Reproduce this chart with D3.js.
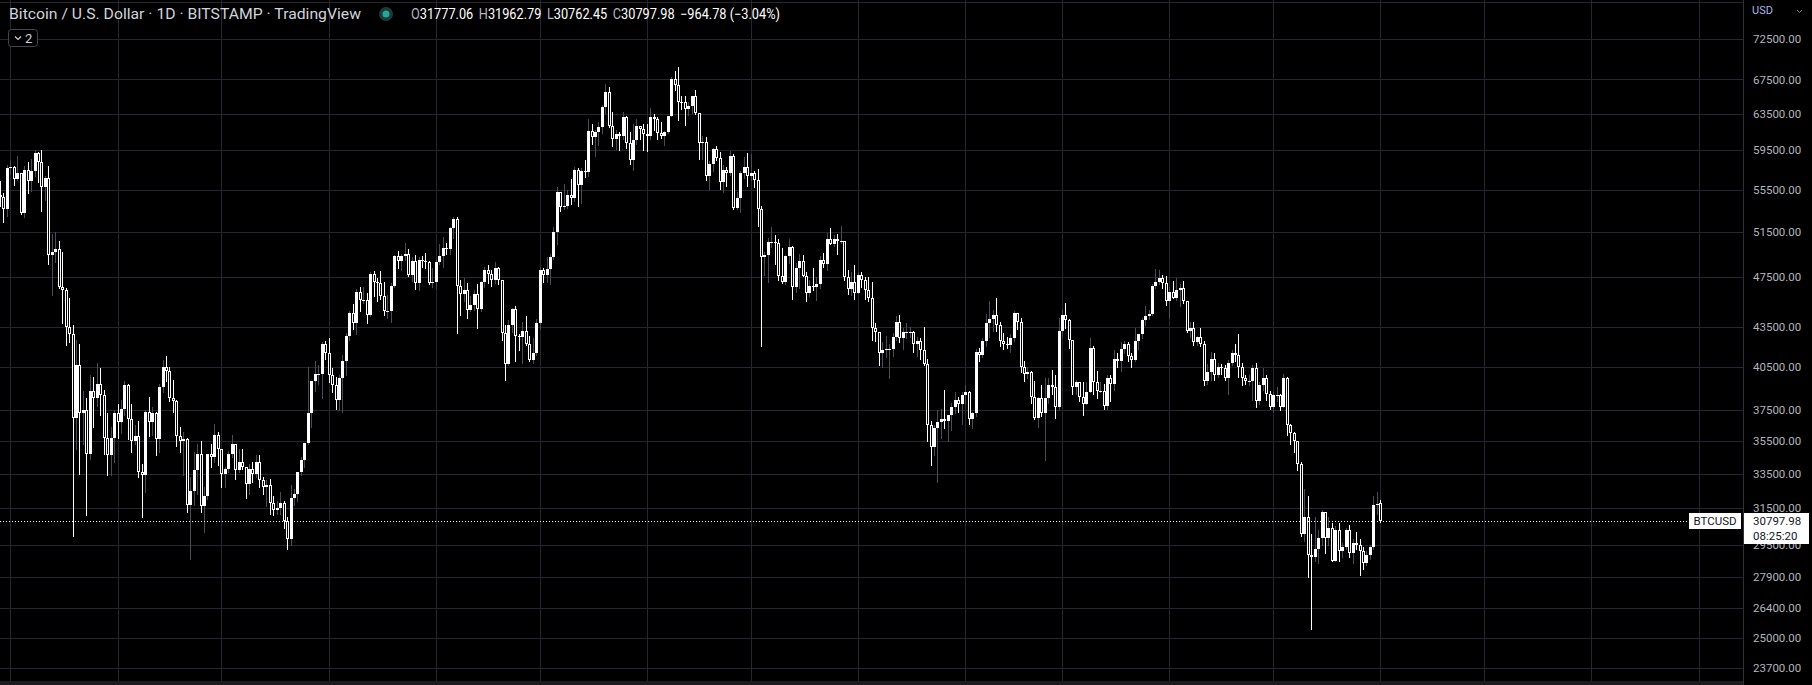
<!DOCTYPE html>
<html>
<head>
<meta charset="utf-8">
<script src="https://cdn.jsdelivr.net/npm/d3@7/dist/d3.min.js"></script>
<style>
  body { margin: 0; background: #000; overflow: hidden; }
  svg text { font-family: Roboto, "Liberation Sans", sans-serif; }
</style>
</head>
<body>
<svg id="chart" width="1812" height="685"></svg>
<script>
// BTCUSD daily candles, Bitstamp, values in thousands of USD
const firstDay = '2021-04-28';

const opens = [
  55.0, 54.8, 53.6,
  57.7, 57.8, 56.6, 57.2, 53.2, 57.5, 56.4, 57.4, 59.2, 58.3, 55.8, 56.7, 49.4, 49.7, 49.9, 46.7, 46.4, 43.5, 42.9, 37.0, 40.6, 37.3, 37.5, 34.7, 38.8, 38.3, 39.3, 38.5, 35.7, 34.6, 35.7,
  37.3, 36.7, 37.6, 39.2, 36.9, 35.5, 35.8, 33.6, 33.4, 37.4, 36.7, 37.3, 35.6, 39.1, 40.5, 40.2, 38.3, 38.1, 35.8, 35.5, 35.6, 31.7, 32.5, 33.7, 34.7, 31.6, 32.2, 34.7, 34.5, 35.9,
  35.0, 33.5, 33.8, 34.7, 35.3, 33.7, 34.2, 33.9, 32.9, 33.8, 33.5, 34.2, 33.1, 32.7, 32.8, 31.8, 31.4, 31.5, 31.8, 30.8, 29.8, 32.1, 32.3, 33.6, 34.3, 35.4, 37.3, 39.5, 40.0, 40.0, 42.2,
  41.5, 39.9, 39.2, 38.2, 39.7, 40.9, 42.8, 44.6, 43.8, 46.3, 45.6, 45.6, 44.4, 47.8, 47.1, 47.0, 45.9, 44.7, 44.7, 46.8, 49.3, 48.9, 49.3, 49.5, 47.7, 48.9, 47.0, 49.0, 48.9, 48.8, 47.0,
  47.1, 48.8, 49.3, 50.0, 49.9, 51.8, 52.7, 46.8, 46.1, 46.4, 44.8, 45.2, 46.1, 44.9, 47.1, 48.1, 47.8, 47.3, 48.3, 47.3, 43.0, 40.7, 43.6, 44.9, 42.8, 42.7, 43.2, 42.2, 41.0, 41.5,
  43.8, 48.1, 47.7, 48.2, 49.2, 51.5, 55.3, 53.8, 53.9, 55.0, 54.7, 57.5, 56.0, 57.4, 57.3, 61.6, 60.9, 61.5, 62.0, 64.3, 66.0, 62.2, 60.7, 61.3, 61.0, 63.2, 60.3, 58.5, 60.6, 62.2, 61.8,
  61.3, 61.0, 63.2, 62.9, 61.4, 61.0, 61.5, 63.3, 67.5, 66.9, 64.9, 64.8, 64.1, 64.4, 65.5, 63.6, 60.3, 60.4, 56.9, 58.1, 59.7, 58.7, 56.3, 57.5, 57.2, 58.9, 53.7, 54.7, 57.2, 57.8,
  56.9, 57.2, 56.5, 53.6, 49.2, 49.4, 50.6, 50.6, 50.5, 47.6, 47.1, 49.3, 50.1, 46.7, 48.3, 48.9, 47.6, 46.2, 46.8, 46.7, 46.9, 49.0, 48.6, 50.8, 50.4, 50.8, 50.7, 50.7, 47.5, 46.5, 47.1,
  46.2, 47.7, 47.3, 46.4, 45.8, 43.4, 43.1, 41.5, 41.7, 41.8, 41.8, 42.7, 43.9, 42.6, 43.1, 43.1, 43.1, 42.2, 42.4, 41.7, 40.7, 36.5, 35.1, 36.3, 36.7, 36.9, 36.8, 37.2, 37.7, 38.2, 37.9,
  38.5, 38.7, 36.9, 37.3, 41.6, 41.4, 42.4, 43.8, 44.1, 44.4, 43.6, 42.4, 42.2, 42.1, 42.6, 44.6, 43.9, 40.5, 40.0, 40.1, 38.4, 37.0, 38.3, 37.3, 38.3, 39.2, 39.1, 37.7,
  43.2, 44.4, 44.0, 42.5, 39.1, 39.4, 38.4, 37.9, 38.7, 41.9, 39.4, 38.8, 38.8, 37.8, 39.7, 39.3, 41.1, 40.9, 41.8, 42.2, 41.3, 41.0, 42.4, 42.9, 44.0, 44.3, 44.5, 46.8, 47.1, 47.4, 47.0,
  45.5, 46.3, 45.8, 46.4, 46.6, 45.5, 43.2, 43.4, 42.3, 42.7, 42.2, 39.5, 40.1, 41.1, 39.9, 40.5, 40.4, 39.7, 40.8, 41.5, 41.4, 40.5, 39.7, 39.5, 39.5, 40.4, 38.1, 39.2, 39.7, 38.6,
  37.7, 38.5, 38.5, 37.7, 39.7, 36.5, 36.0, 35.5, 34.1, 30.1, 31.0, 29.0, 28.9, 29.3, 29.9, 31.3, 29.9, 30.4, 28.7, 30.3, 29.2, 29.4, 30.3, 29.1, 29.6, 29.5, 29.2, 28.6, 29.0, 29.4, 31.7,
  31.77706
];

const highs = [
  56.4, 55.2, 58.0,
  58.5, 57.9, 58.9, 57.2, 57.9, 58.3, 58.6, 59.5, 59.3, 59.6, 56.9, 57.9, 51.3, 51.5, 50.7, 49.7, 46.6, 45.8, 43.6, 42.5, 42.2, 38.8, 38.3, 39.9, 39.8, 40.8, 40.4, 38.9, 37.3, 36.4, 37.5,
  37.9, 38.2, 39.5, 39.3, 37.9, 36.5, 36.8, 34.1, 37.5, 38.4, 37.7, 37.4, 39.3, 41.0, 41.3, 40.5, 39.6, 38.2, 36.4, 36.1, 35.7, 33.3, 34.8, 35.3, 35.5, 32.7, 34.7, 35.3, 36.6, 36.1,
  35.0, 33.9, 34.9, 35.9, 35.3, 35.0, 35.0, 33.9, 34.1, 34.2, 34.6, 34.6, 33.3, 33.1, 33.2, 32.2, 31.9, 32.4, 31.9, 31.0, 32.8, 32.6, 33.6, 34.5, 35.4, 40.5, 39.5, 40.9, 40.6, 42.3, 42.4,
  42.6, 40.4, 39.8, 39.9, 41.4, 43.0, 44.7, 45.3, 46.5, 46.7, 46.7, 46.2, 47.9, 48.0, 47.4, 48.0, 47.1, 46.0, 47.0, 49.4, 49.8, 49.5, 50.5, 49.9, 49.2, 49.4, 49.2, 49.3, 49.6, 48.9, 48.3,
  49.0, 50.4, 51.0, 50.5, 51.9, 52.9, 52.9, 47.3, 47.4, 47.0, 45.9, 46.4, 46.9, 47.2, 48.4, 48.5, 48.1, 48.8, 48.4, 47.3, 43.6, 44.0, 45.0, 45.1, 42.9, 43.9, 44.3, 42.8, 42.6, 44.1,
  48.4, 48.3, 49.2, 49.5, 51.9, 55.8, 55.3, 56.1, 55.5, 56.6, 57.8, 57.7, 57.7, 58.5, 62.9, 62.4, 61.7, 62.6, 64.5, 67.0, 66.6, 63.7, 61.7, 61.5, 63.7, 63.3, 61.5, 62.4, 62.9, 62.2, 62.4,
  62.4, 64.2, 63.5, 63.1, 62.6, 61.6, 63.3, 67.8, 68.5, 69.0, 65.6, 65.5, 64.9, 65.5, 66.3, 63.6, 61.0, 60.9, 58.4, 59.8, 60.0, 59.3, 58.0, 57.8, 59.4, 59.1, 55.3, 57.4, 58.8, 59.2,
  59.1, 57.4, 57.6, 53.9, 49.7, 50.9, 51.9, 51.2, 50.8, 50.0, 49.4, 50.8, 50.2, 48.7, 49.5, 49.4, 47.9, 47.3, 48.3, 47.5, 49.3, 49.6, 51.4, 51.8, 51.2, 51.3, 52.0, 50.7, 48.1, 47.9, 48.5,
  47.9, 47.9, 47.5, 47.5, 47.1, 43.8, 43.1, 42.3, 42.8, 42.2, 43.0, 44.3, 44.4, 43.4, 43.8, 43.5, 43.2, 42.7, 42.6, 43.5, 41.1, 36.8, 36.5, 37.5, 37.6, 38.9, 37.2, 38.0, 38.7, 38.4, 38.7,
  39.2, 38.8, 37.4, 41.8, 41.9, 42.6, 44.5, 45.5, 44.8, 45.8, 43.9, 43.0, 42.7, 42.9, 44.7, 44.6, 44.2, 40.9, 40.5, 40.2, 39.5, 38.4, 39.2, 39.7, 39.7, 40.3, 39.9, 44.2,
  44.9, 45.4, 44.1, 42.5, 39.6, 39.4, 39.4, 39.4, 42.6, 42.0, 40.2, 39.4, 39.3, 39.9, 39.9, 41.7, 41.5, 42.3, 42.4, 42.3, 41.5, 43.4, 42.9, 44.2, 45.1, 44.8, 46.9, 48.2, 48.1, 47.7, 47.6,
  46.7, 47.2, 47.4, 46.9, 47.2, 45.5, 43.9, 43.9, 42.8, 43.4, 42.4, 40.7, 41.6, 41.5, 40.8, 40.7, 40.6, 41.0, 41.7, 42.2, 42.9, 40.8, 39.9, 39.9, 40.6, 40.8, 39.4, 40.4, 39.9, 38.8,
  38.7, 39.1, 38.6, 40.0, 39.8, 36.6, 36.1, 35.5, 34.2, 32.6, 32.2, 30.1, 31.0, 30.3, 31.4, 31.3, 31.0, 30.7, 30.5, 30.7, 29.6, 30.4, 30.6, 29.8, 30.2, 29.8, 29.4, 29.2, 29.5, 32.2, 32.4,
  31.96279
];

const lows = [
  53.9, 52.4, 53.0,
  57.1, 56.0, 56.5, 53.1, 52.9, 55.2, 55.4, 56.9, 56.3, 53.4, 54.5, 48.6, 46.0, 48.8, 46.6, 43.8, 42.1, 42.3, 30.0, 35.0, 33.5, 35.3, 31.1, 34.4, 36.4, 37.8, 37.2, 34.7, 33.4, 33.4, 34.2,
  35.7, 36.0, 37.2, 35.6, 34.8, 35.3, 33.3, 31.0, 32.4, 35.8, 35.9, 34.6, 34.8, 38.7, 39.5, 38.1, 37.4, 35.2, 34.8, 33.4, 31.3, 28.8, 31.7, 32.3, 31.3, 30.2, 32.0, 33.9, 34.2, 34.0,
  32.7, 32.7, 33.6, 34.5, 33.2, 33.6, 33.8, 32.1, 32.3, 33.0, 33.3, 32.7, 32.3, 31.6, 31.2, 31.1, 31.2, 31.2, 30.4, 29.3, 29.5, 31.7, 31.9, 33.4, 33.9, 35.3, 36.4, 38.8, 39.3, 38.3, 41.1,
  39.4, 38.7, 37.6, 37.5, 37.4, 39.9, 42.5, 43.3, 42.9, 44.7, 45.4, 43.8, 44.3, 45.9, 45.5, 45.7, 44.4, 44.2, 43.9, 46.7, 48.3, 48.1, 49.0, 47.6, 47.2, 46.5, 46.4, 48.4, 48.3, 46.9, 46.7,
  46.6, 48.6, 48.4, 49.5, 49.5, 50.9, 43.0, 44.4, 45.5, 44.2, 44.7, 44.8, 43.4, 44.7, 46.7, 47.0, 46.8, 47.0, 46.9, 42.5, 39.6, 40.6, 43.1, 40.9, 41.7, 40.8, 42.1, 40.9, 40.8, 41.4,
  43.3, 47.1, 47.1, 46.9, 49.1, 50.4, 53.4, 53.6, 53.7, 54.1, 54.4, 53.9, 54.2, 56.8, 56.9, 60.2, 58.9, 60.1, 61.4, 63.6, 62.0, 60.0, 59.7, 59.6, 60.7, 59.8, 58.1, 57.5, 60.2, 60.7, 59.5,
  59.4, 60.7, 61.7, 60.7, 60.8, 60.1, 61.4, 63.3, 66.3, 62.8, 64.1, 62.3, 63.4, 63.6, 63.5, 58.6, 58.6, 56.5, 55.6, 57.4, 58.5, 55.6, 55.3, 55.9, 57.0, 53.6, 53.6, 53.3, 56.7, 55.9,
  56.5, 55.8, 52.0, 42.0, 47.7, 47.1, 50.1, 48.6, 47.3, 47.0, 46.9, 48.7, 45.7, 46.3, 46.6, 47.6, 45.5, 45.9, 46.4, 45.6, 46.6, 48.4, 48.1, 50.4, 50.2, 49.5, 50.5, 47.3, 46.1, 46.0, 45.7,
  46.2, 46.7, 45.7, 45.5, 42.5, 42.4, 40.6, 40.5, 41.2, 39.7, 41.3, 42.5, 42.3, 41.8, 42.6, 42.7, 41.6, 41.3, 41.1, 40.6, 35.5, 34.0, 34.6, 33.0, 35.7, 36.3, 35.5, 36.2, 37.3, 37.4, 36.6,
  38.0, 36.6, 36.3, 37.1, 40.9, 41.2, 42.0, 42.7, 43.2, 43.2, 42.0, 41.8, 41.9, 41.6, 42.4, 43.3, 40.1, 39.5, 39.7, 38.0, 36.9, 36.4, 37.1, 34.3, 38.0, 38.6, 37.0, 37.5,
  42.8, 43.4, 41.9, 38.6, 38.6, 38.1, 37.2, 37.9, 38.7, 38.6, 38.3, 38.7, 37.6, 37.6, 38.1, 38.9, 40.5, 40.2, 41.5, 40.9, 40.5, 40.9, 41.8, 42.6, 43.6, 44.1, 44.4, 46.6, 46.9, 46.6, 45.2,
  44.2, 45.8, 45.6, 45.1, 45.4, 43.1, 42.7, 42.1, 42.1, 42.0, 39.2, 39.3, 39.6, 39.6, 39.8, 40.0, 39.6, 38.6, 40.6, 40.9, 39.8, 39.2, 39.3, 39.2, 38.2, 37.7, 37.9, 38.9, 38.2, 37.6,
  37.4, 38.1, 37.5, 37.7, 35.9, 35.3, 34.8, 33.7, 30.0, 29.7, 27.9, 25.4, 28.7, 28.6, 29.5, 29.1, 29.5, 28.7, 28.7, 28.7, 28.9, 29.3, 28.9, 28.6, 29.3, 28.0, 28.3, 28.5, 28.8, 29.3, 31.2,
  30.76245
];

const closes = [
  54.8, 53.6, 57.7,
  57.8, 56.6, 57.2, 53.2, 57.5, 56.4, 57.4, 59.2, 58.3, 55.8, 56.7, 49.4, 49.7, 49.9, 46.7, 46.4, 43.5, 42.9, 37.0, 40.6, 37.3, 37.5, 34.7, 38.8, 38.3, 39.3, 38.5, 35.7, 34.6, 35.7, 37.3,
  36.7, 37.6, 39.2, 36.9, 35.5, 35.8, 33.6, 33.4, 37.4, 36.7, 37.3, 35.6, 39.1, 40.5, 40.2, 38.3, 38.1, 35.8, 35.5, 35.6, 31.7, 32.5, 33.7, 34.7, 31.6, 32.2, 34.7, 34.5, 35.9, 35.0,
  33.5, 33.8, 34.7, 35.3, 33.7, 34.2, 33.9, 32.9, 33.8, 33.5, 34.2, 33.1, 32.7, 32.8, 31.8, 31.4, 31.5, 31.8, 30.8, 29.8, 32.1, 32.3, 33.6, 34.3, 35.4, 37.3, 39.5, 40.0, 40.0, 42.2, 41.5,
  39.9, 39.2, 38.2, 39.7, 40.9, 42.8, 44.6, 43.8, 46.3, 45.6, 45.6, 44.4, 47.8, 47.1, 47.0, 45.9, 44.7, 44.7, 46.8, 49.3, 48.9, 49.3, 49.5, 47.7, 48.9, 47.0, 49.0, 48.9, 48.8, 47.0, 47.1,
  48.8, 49.3, 50.0, 49.9, 51.8, 52.7, 46.8, 46.1, 46.4, 44.8, 45.2, 46.1, 44.9, 47.1, 48.1, 47.8, 47.3, 48.3, 47.3, 43.0, 40.7, 43.6, 44.9, 42.8, 42.7, 43.2, 42.2, 41.0, 41.5, 43.8,
  48.1, 47.7, 48.2, 49.2, 51.5, 55.3, 53.8, 53.9, 55.0, 54.7, 57.5, 56.0, 57.4, 57.3, 61.6, 60.9, 61.5, 62.0, 64.3, 66.0, 62.2, 60.7, 61.3, 61.0, 63.2, 60.3, 58.5, 60.6, 62.2, 61.8, 61.3,
  61.0, 63.2, 62.9, 61.4, 61.0, 61.5, 63.3, 67.5, 66.9, 64.9, 64.8, 64.1, 64.4, 65.5, 63.6, 60.3, 60.4, 56.9, 58.1, 59.7, 58.7, 56.3, 57.5, 57.2, 58.9, 53.7, 54.7, 57.2, 57.8, 56.9,
  57.2, 56.5, 53.6, 49.2, 49.4, 50.6, 50.6, 50.5, 47.6, 47.1, 49.3, 50.1, 46.7, 48.3, 48.9, 47.6, 46.2, 46.8, 46.7, 46.9, 49.0, 48.6, 50.8, 50.4, 50.8, 50.7, 50.7, 47.5, 46.5, 47.1, 46.2,
  47.7, 47.3, 46.4, 45.8, 43.4, 43.1, 41.5, 41.7, 41.8, 41.8, 42.7, 43.9, 42.6, 43.1, 43.1, 43.1, 42.2, 42.4, 41.7, 40.7, 36.5, 35.1, 36.3, 36.7, 36.9, 36.8, 37.2, 37.7, 38.2, 37.9, 38.5,
  38.7, 36.9, 37.3, 41.6, 41.4, 42.4, 43.8, 44.1, 44.4, 43.6, 42.4, 42.2, 42.1, 42.6, 44.6, 43.9, 40.5, 40.0, 40.1, 38.4, 37.0, 38.3, 37.3, 38.3, 39.2, 39.1, 37.7, 43.2,
  44.4, 44.0, 42.5, 39.1, 39.4, 38.4, 37.9, 38.7, 41.9, 39.4, 38.8, 38.8, 37.8, 39.7, 39.3, 41.1, 40.9, 41.8, 42.2, 41.3, 41.0, 42.4, 42.9, 44.0, 44.3, 44.5, 46.8, 47.1, 47.4, 47.0, 45.5,
  46.3, 45.8, 46.4, 46.6, 45.5, 43.2, 43.4, 42.3, 42.7, 42.2, 39.5, 40.1, 41.1, 39.9, 40.5, 40.4, 39.7, 40.8, 41.5, 41.4, 40.5, 39.7, 39.5, 39.5, 40.4, 38.1, 39.2, 39.7, 38.6, 37.7,
  38.5, 38.5, 37.7, 39.7, 36.5, 36.0, 35.5, 34.1, 30.1, 31.0, 29.0, 28.9, 29.3, 29.9, 31.3, 29.9, 30.4, 28.7, 30.3, 29.2, 29.4, 30.3, 29.1, 29.6, 29.5, 29.2, 28.6, 29.0, 29.4, 31.7, 31.76276,
  30.79798
];

// price scale grid and labels
const priceTicks = [77500, 72500, 67500, 63500, 59500, 55500, 51500, 47500, 43500, 40500, 37500, 35500, 33500, 31500, 29500, 27900, 26400, 25000, 23700];
// vertical grid lines sit on the first day of each month
const monthTicks = ['2021-05-01', '2021-06-01', '2021-07-01', '2021-08-01', '2021-09-01', '2021-10-01', '2021-11-01', '2021-12-01',
  '2022-01-01', '2022-02-01', '2022-03-01', '2022-04-01', '2022-05-01', '2022-06-01', '2022-07-01', '2022-08-01', '2022-09-01'];

const symbolTitle = 'Bitcoin / U.S. Dollar · 1D · BITSTAMP · TradingView';
const countdown = '08:25:20';

const W = 1812, H = 685;
const plotRight = 1743;   // where the price axis panel starts
const plotBottom = 681;
const gridColor = '#26262e';
const textColor = '#b2b5be';
const upWick = '#4a4c56';

const parseDay = d3.utcParse('%Y-%m-%d');
const start = parseDay(firstDay);

const candles = closes.map((c, i) => ({
  date: d3.utcDay.offset(start, i),
  o: opens[i] * 1000, h: highs[i] * 1000, l: lows[i] * 1000, c: c * 1000
}));

const x = d3.scaleUtc()
  .domain([parseDay('2021-05-01'), parseDay('2022-09-01')])
  .range([10.3, 1698.6]);

const y = d3.scaleLog()
  .domain([23700, 72500])
  .range([668.3, 39.3]);

const svg = d3.select('#chart');

svg.append('rect').attr('width', W).attr('height', H).attr('fill', '#000');

// grid
const grid = svg.append('g').attr('shape-rendering', 'crispEdges');
grid.selectAll('.hg').data(priceTicks).join('line')
  .attr('x1', 0).attr('x2', plotRight)
  .attr('y1', d => Math.round(y(d)) + 0.5).attr('y2', d => Math.round(y(d)) + 0.5)
  .attr('stroke', gridColor);
grid.selectAll('.vg').data(monthTicks.map(parseDay)).join('line')
  .attr('x1', d => Math.round(x(d)) + 0.5).attr('x2', d => Math.round(x(d)) + 0.5)
  .attr('y1', 0).attr('y2', plotBottom)
  .attr('stroke', gridColor);

// candles: up = white body + grey wick, down = hollow body + white wick
const plot = svg.append('g').attr('shape-rendering', 'crispEdges');
const bars = plot.selectAll('g.candle').data(candles).join('g').attr('class', 'candle');

bars.append('line')
  .attr('x1', d => Math.round(x(d.date)) + 0.5)
  .attr('x2', d => Math.round(x(d.date)) + 0.5)
  .attr('y1', d => Math.round(y(d.h)))
  .attr('y2', d => Math.round(y(d.l)) + 1)
  .attr('stroke', d => d.c >= d.o ? upWick : '#fff');

bars.each(function(d) {
  const cx = Math.round(x(d.date));
  const top = Math.round(y(Math.max(d.o, d.c)));
  const bot = Math.round(y(Math.min(d.o, d.c)));
  const h = Math.max(1, bot - top);
  const g = d3.select(this);
  if (d.c >= d.o || h < 3) {
    g.append('rect').attr('x', cx - 1).attr('y', top).attr('width', 3).attr('height', h).attr('fill', '#fff');
  } else {
    g.append('rect').attr('x', cx - 0.5).attr('y', top + 0.5).attr('width', 2).attr('height', h - 1)
      .attr('fill', '#000').attr('stroke', '#fff').attr('stroke-width', 1);
  }
});

// last price line
const last = candles[candles.length - 1];
const prev = candles[candles.length - 2];
const lastY = Math.round(y(last.c)) + 0.5;
svg.append('line')
  .attr('x1', 0).attr('x2', plotRight).attr('y1', lastY).attr('y2', lastY)
  .attr('stroke', '#fff').attr('stroke-dasharray', '1,2');

// price axis panel
svg.append('rect').attr('x', plotRight).attr('y', 0).attr('width', W - plotRight).attr('height', H).attr('fill', '#000');
svg.append('line').attr('x1', plotRight + 0.5).attr('x2', plotRight + 0.5).attr('y1', 0).attr('y2', H)
  .attr('stroke', '#2f2f38').attr('shape-rendering', 'crispEdges');
svg.append('rect').attr('x', 0).attr('y', plotBottom).attr('width', plotRight).attr('height', H - plotBottom).attr('fill', '#1c1c1f');

svg.append('g').selectAll('text').data(priceTicks.filter(d => y(d) > 20)).join('text')
  .attr('x', 1753).attr('y', d => y(d)).attr('dy', '0.35em')
  .attr('font-size', 11.5).attr('fill', textColor)
  .text(d => d3.format('.2f')(d));

svg.append('text').attr('x', 1752).attr('y', 10).attr('dy', '0.35em')
  .attr('font-size', 11).attr('fill', '#a9b4e8').text('USD');
svg.append('path').attr('d', 'M1797,10 l2.5,2.5 l2.5,-2.5').attr('fill', 'none').attr('stroke', '#8c8f99').attr('stroke-width', 1);

// last price labels
const boxTop = Math.round(y(last.c)) - 8;
svg.append('rect').attr('x', 1689).attr('y', boxTop).attr('width', 52).attr('height', 16).attr('fill', '#fff');
svg.append('text').attr('x', 1715).attr('y', boxTop + 8).attr('dy', '0.35em').attr('text-anchor', 'middle')
  .attr('font-size', 11.5).attr('fill', '#131722').text('BTCUSD');
svg.append('rect').attr('x', plotRight + 1).attr('y', boxTop).attr('width', 65).attr('height', 31).attr('fill', '#fff');
svg.append('text').attr('x', 1753).attr('y', boxTop + 8).attr('dy', '0.35em')
  .attr('font-size', 11.5).attr('fill', '#131722').text(d3.format('.2f')(last.c));
svg.append('text').attr('x', 1753).attr('y', boxTop + 23).attr('dy', '0.35em')
  .attr('font-size', 11.5).attr('fill', '#131722').text(countdown);

// legend line at top
svg.append('text').attr('x', 9).attr('y', 14).attr('dy', '0.35em')
  .attr('font-size', 14).attr('fill', '#d1d4dc')
  .attr('textLength', 352).attr('lengthAdjust', 'spacingAndGlyphs')
  .text(symbolTitle);

svg.append('circle').attr('cx', 386).attr('cy', 14).attr('r', 7).attr('fill', '#1e3a37');
svg.append('circle').attr('cx', 386).attr('cy', 14).attr('r', 3.5).attr('fill', '#26a69a');

const fmt = d3.format('.2f');
const change = last.c - prev.c;
const ohlc = [['O', last.o], ['H', last.h], ['L', last.l], ['C', last.c]];
const legend = svg.append('text').attr('x', 411).attr('y', 14).attr('dy', '0.35em').attr('font-size', 14)
  .attr('textLength', 369).attr('lengthAdjust', 'spacingAndGlyphs');
ohlc.forEach(([k, v], i) => {
  legend.append('tspan').attr('fill', textColor).attr('dx', i ? 6 : 0).text(k);
  legend.append('tspan').attr('fill', '#fff').text(fmt(v));
});
legend.append('tspan').attr('fill', '#fff').attr('dx', 6)
  .text(fmt(change).replace('-', '−') + ' (' + fmt(change / prev.c * 100).replace('-', '−') + '%)');

// collapsed indicators button
svg.append('rect').attr('x', 8.5).attr('y', 29.5).attr('width', 29).attr('height', 17).attr('rx', 3)
  .attr('fill', '#000').attr('stroke', '#434651');
svg.append('path').attr('d', 'M15,36.5 l3,3 l3,-3').attr('fill', 'none').attr('stroke', '#d1d4dc').attr('stroke-width', 1.2);
svg.append('text').attr('x', 25).attr('y', 38).attr('dy', '0.35em').attr('font-size', 13).attr('fill', '#d1d4dc').text('2');
</script>
</body>
</html>
